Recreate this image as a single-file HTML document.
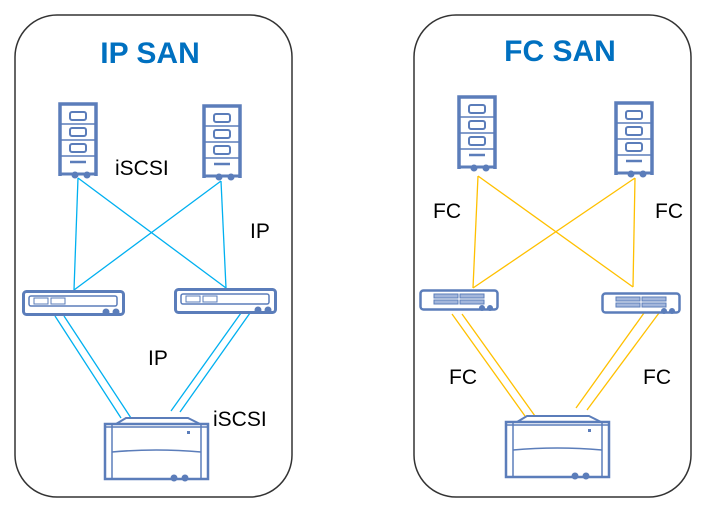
<!DOCTYPE html>
<html><head><meta charset="utf-8"><style>
html,body{margin:0;padding:0;background:#fff;}
svg{display:block;}
text{font-family:"Liberation Sans",sans-serif;}
</style></head><body>
<svg width="705" height="507" viewBox="0 0 705 507" xmlns="http://www.w3.org/2000/svg">
<defs>
<g id="srv">
  <path d="M0,72 V0 H36 V72" fill="none" stroke="#5b7dba" stroke-width="3.5"/>
  <line x1="0" y1="20" x2="36" y2="20" stroke="#5b7dba" stroke-width="1.5"/>
  <line x1="0" y1="36" x2="36" y2="36" stroke="#5b7dba" stroke-width="1.5"/>
  <line x1="0" y1="52" x2="36" y2="52" stroke="#5b7dba" stroke-width="1.5"/>
  <line x1="0" y1="70" x2="36" y2="70" stroke="#5b7dba" stroke-width="3"/>
  <rect x="10" y="8" width="16" height="8" rx="2" fill="none" stroke="#5b7dba" stroke-width="2"/>
  <rect x="10" y="24" width="16" height="8" rx="2" fill="none" stroke="#5b7dba" stroke-width="2"/>
  <rect x="10" y="40" width="16" height="8" rx="2" fill="none" stroke="#5b7dba" stroke-width="2"/>
  <line x1="10" y1="58" x2="26" y2="58" stroke="#5b7dba" stroke-width="2.5"/>
  <circle cx="15" cy="71" r="3.5" fill="#5b7dba"/>
  <circle cx="27" cy="71" r="3.5" fill="#5b7dba"/>
</g>
<g id="sw">
  <rect x="1.5" y="1.5" width="100" height="23" rx="3" fill="#fff" stroke="#5b7dba" stroke-width="3"/>
  <rect x="7" y="6" width="88" height="10" rx="2" fill="none" stroke="#5b7dba" stroke-width="1.5"/>
  <rect x="12" y="8" width="14" height="6" fill="none" stroke="#5b7dba" stroke-width="1"/>
  <rect x="29" y="8" width="14" height="6" fill="none" stroke="#5b7dba" stroke-width="1"/>
  <circle cx="84" cy="22" r="3.5" fill="#5b7dba"/>
  <circle cx="94" cy="22" r="3.5" fill="#5b7dba"/>
</g>
<g id="swf">
  <rect x="1.5" y="1.5" width="77" height="19" rx="3" fill="#fff" stroke="#5b7dba" stroke-width="2.5"/>
  <rect x="15" y="5" width="24" height="4" fill="#a3b6db" stroke="#5b7dba" stroke-width="1"/>
  <rect x="41" y="5" width="24" height="4" fill="#a3b6db" stroke="#5b7dba" stroke-width="1"/>
  <rect x="15" y="11" width="24" height="4" fill="#a3b6db" stroke="#5b7dba" stroke-width="1"/>
  <rect x="41" y="11" width="24" height="4" fill="#a3b6db" stroke="#5b7dba" stroke-width="1"/>
  <circle cx="63" cy="19" r="3" fill="#5b7dba"/>
  <circle cx="71" cy="19" r="3" fill="#5b7dba"/>
</g>
<g id="stor">
  <path d="M12,6 L22,0 H84 L96,6" fill="none" stroke="#5b7dba" stroke-width="2"/>
  <rect x="1" y="6" width="103" height="55" fill="#fff" stroke="#5b7dba" stroke-width="2.5"/>
  <line x1="8" y1="6" x2="8" y2="61" stroke="#5b7dba" stroke-width="1.5"/>
  <line x1="97" y1="6" x2="97" y2="61" stroke="#5b7dba" stroke-width="1.5"/>
  <line x1="1" y1="9" x2="104" y2="9" stroke="#5b7dba" stroke-width="1.5"/>
  <path d="M8,34 Q52,30 97,34" fill="none" stroke="#5b7dba" stroke-width="1.5"/>
  <circle cx="70" cy="60" r="3.5" fill="#5b7dba"/>
  <circle cx="81" cy="60" r="3.5" fill="#5b7dba"/>
  <rect x="83" y="13" width="3" height="3" fill="#5b7dba"/>
</g>
</defs>

<rect x="15" y="15" width="277" height="482" rx="42" fill="none" stroke="#333" stroke-width="1.5"/>
<rect x="414" y="15" width="277" height="482" rx="42" fill="none" stroke="#333" stroke-width="1.5"/>

<text x="150" y="63" text-anchor="middle" font-size="30" font-weight="bold" fill="#0070c0">IP SAN</text>
<text x="560" y="61" text-anchor="middle" font-size="30" font-weight="bold" fill="#0070c0">FC SAN</text>

<!-- IP lines -->
<g stroke="#00b0f0" stroke-width="1.3" fill="none">
  <line x1="78" y1="178" x2="74" y2="290"/>
  <line x1="78" y1="178" x2="226" y2="288"/>
  <line x1="221" y1="181" x2="74" y2="290"/>
  <line x1="221" y1="181" x2="226" y2="288"/>
  <line x1="55" y1="316" x2="121" y2="418"/>
  <line x1="64" y1="316" x2="131" y2="418"/>
  <line x1="241" y1="313" x2="171" y2="411"/>
  <line x1="250" y1="313" x2="180" y2="412"/>
</g>
<g stroke="#ffc000" stroke-width="1.3" fill="none">
  <line x1="478" y1="176" x2="473" y2="288"/>
  <line x1="478" y1="176" x2="633" y2="287"/>
  <line x1="635" y1="178" x2="473" y2="288"/>
  <line x1="635" y1="178" x2="633" y2="287"/>
  <line x1="452" y1="314" x2="525" y2="416"/>
  <line x1="462" y1="314" x2="535" y2="416"/>
  <line x1="644" y1="313" x2="576" y2="408"/>
  <line x1="659" y1="313" x2="587" y2="410"/>
</g>

<use href="#srv" x="60" y="104"/>
<use href="#srv" x="204" y="106"/>
<use href="#srv" x="459" y="97"/>
<use href="#srv" x="616" y="103"/>

<use href="#sw" x="22" y="290"/>
<use href="#sw" x="174" y="288"/>
<use href="#swf" x="419" y="289"/>
<use href="#swf" x="601" y="292"/>

<use href="#stor" x="104" y="418"/>
<use href="#stor" x="505" y="416"/>

<g font-size="21" fill="#000">
  <text x="115" y="175">iSCSI</text>
  <text x="250" y="238">IP</text>
  <text x="148" y="365">IP</text>
  <text x="213" y="426">iSCSI</text>
  <text x="433" y="218">FC</text>
  <text x="655" y="218">FC</text>
  <text x="449" y="384">FC</text>
  <text x="643" y="384">FC</text>
</g>
</svg>
</body></html>
